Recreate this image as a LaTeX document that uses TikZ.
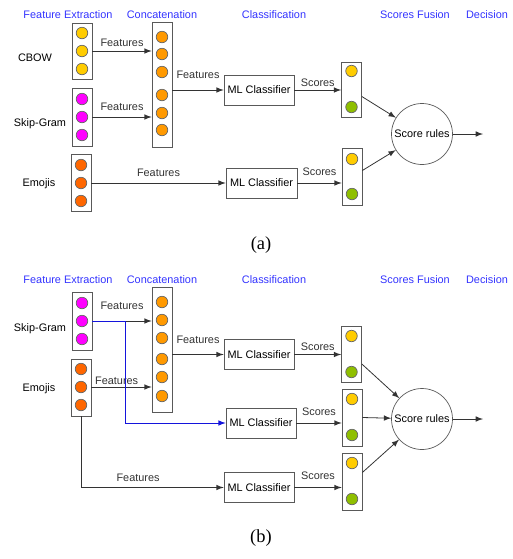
\documentclass[tikz,border=0pt]{standalone}
\usepackage{fontspec}
\setmainfont{Liberation Sans}
\newfontfamily\capfont{Liberation Serif}
\definecolor{hdrblue}{RGB}{51,51,255}
\definecolor{cyel}{RGB}{255,204,0}
\definecolor{cmag}{RGB}{255,0,255}
\definecolor{cemo}{RGB}{255,102,0}
\definecolor{ccat}{RGB}{255,153,0}
\definecolor{cgrn}{RGB}{143,191,0}
\definecolor{cblue}{RGB}{20,20,220}
\tikzset{
  hdr/.style={text=hdrblue},
  colbox/.style={draw=black!65,minimum width=0.4cm,inner sep=0pt},
  dot/.style={circle,draw=black!60,minimum size=0.23cm,inner sep=0pt},
  clf/.style={draw=black!65,minimum width=1.4cm,minimum height=0.6cm,inner sep=0pt},
  fuse/.style={circle,draw=black!65,minimum size=1.22cm,inner sep=0pt},
  conn/.style={->,black!80,line width=0.45pt},
  lbl/.style={inner sep=0.5pt,above=#1},
  lbl/.default=2pt,
  capt/.style={font=\capfont\fontsize{10.5}{12}\selectfont}
}
\begin{document}
\begin{tikzpicture}[x=0.02cm,y=-0.02cm,>=latex,font=\fontsize{6.2}{7.4}\selectfont]
    \useasboundingbox (0,0) rectangle (513,559);
    % (a)
    \node[hdr] (hfea) at (68,15) {Feature Extraction};
    \node[hdr] (hcca) at (162,15) {Concatenation};
    \node[hdr] (hcla) at (274,15) {Classification};
    \node[hdr] (hsfa) at (415,15) {Scores Fusion};
    \node[hdr] (hdea) at (487,15) {Decision};
    \node (tcbow) at (35,58) {CBOW};
    \node (tskipa) at (40,124) {Skip-Gram};
    \node (temoa) at (39,184) {Emojis};
    \node[colbox,minimum height=1.12cm] (cbow) at (82,51) {};
    \foreach \i/\y in {1/33,2/51,3/69} { \node[dot,fill=cyel] (cbow\i) at (82,\y) {}; }
    \node[colbox,minimum height=1.16cm] (skipa) at (82,117) {};
    \foreach \i/\y in {1/99,2/117,3/135} { \node[dot,fill=cmag] (skipa\i) at (82,\y) {}; }
    \node[colbox,minimum height=1.14cm] (emoa) at (81,183) {};
    \foreach \i/\y in {1/165,2/183,3/201} { \node[dot,fill=cemo] (emoa\i) at (81,\y) {}; }
    \node[colbox,minimum height=2.5cm] (cata) at (162,84.5) {};
    \foreach \i/\y in {1/37,2/54,3/72,4/95,5/113,6/130} { \node[dot,fill=ccat] (cata\i) at (162,\y) {}; }
    \node[clf] (clfa1) at (259,90) {ML Classifier};
    \node[clf,minimum width=1.42cm] (clfa2) at (261.5,183) {ML Classifier};
    \node[colbox,minimum height=1.1cm] (sca1) at (351.5,89.5) {};
    \node[dot,fill=cyel] (sca1y) at (351.5,71) {};
    \node[dot,fill=cgrn] (sca1g) at (351.5,107) {};
    \node[colbox,minimum height=1.14cm] (sca2) at (352,176.5) {};
    \node[dot,fill=cyel] (sca2y) at (352,159) {};
    \node[dot,fill=cgrn] (sca2g) at (352,194) {};
    \node[fuse] (fusa) at (422,134) {Score rules};
    \coordinate (deca) at (483,134);
    \draw[conn] (cbow2 -| cbow.east) -- node[lbl=2pt] (fa1) {Features} (cbow2 -| cata.west);
    \draw[conn] (skipa2 -| skipa.east) -- node[lbl=3pt] (fa2) {Features} (skipa2 -| cata.west);
    \draw[conn] (cata.east |- clfa1) -- node[lbl=5.8pt] (fa3) {Features} (clfa1.west);
    \draw[conn] (emoa2 -| emoa.east) -- node[lbl=3pt] (fa4) {Features} (emoa2 -| clfa2.west);
    \draw[conn] (clfa1.east) -- node[lbl=1.3pt] (sa1) {Scores} (clfa1.east -| sca1.west);
    \draw[conn] (clfa2.east) -- node[lbl=3.5pt] (sa2) {Scores} (clfa2.east -| sca2.west);
    \draw[conn] ([yshift=-0.14cm]sca1.east) -- (fusa);
    \draw[conn] ([yshift=0.12cm]sca2.east) -- (fusa);
    \draw[conn] (fusa) -- (deca);
    \node[capt] (capa) at (261,245) {(a)};
    % (b)
    \node[hdr] (hfeb) at (68,280) {Feature Extraction};
    \node[hdr] (hccb) at (162,280) {Concatenation};
    \node[hdr] (hclb) at (274,280) {Classification};
    \node[hdr] (hsfb) at (415,280) {Scores Fusion};
    \node[hdr] (hdeb) at (487,280) {Decision};
    \node (tskipb) at (40,329) {Skip-Gram};
    \node (temob) at (39,389) {Emojis};
    \node[colbox,minimum height=1.16cm] (skipb) at (82,321) {};
    \foreach \i/\y in {1/303,2/321,3/339} { \node[dot,fill=cmag] (skipb\i) at (82,\y) {}; }
    \node[colbox,minimum height=1.14cm] (emob) at (81,387.5) {};
    \foreach \i/\y in {1/369,2/387,3/405} { \node[dot,fill=cemo] (emob\i) at (81,\y) {}; }
    \node[colbox,minimum height=2.5cm] (catb) at (162,349.5) {};
    \foreach \i/\y in {1/302,2/320,3/338,4/359,5/377,6/396} { \node[dot,fill=ccat] (catb\i) at (162,\y) {}; }
    \node[clf] (clfb1) at (259,354.5) {ML Classifier};
    \node[clf] (clfb2) at (261,423) {ML Classifier};
    \node[clf] (clfb3) at (259,487.5) {ML Classifier};
    \node[colbox,minimum height=1.12cm] (scb1) at (351.5,354) {};
    \node[dot,fill=cyel] (scb1y) at (351.5,336) {};
    \node[dot,fill=cgrn] (scb1g) at (351.5,372) {};
    \node[colbox,minimum height=1.14cm] (scb2) at (352,417.5) {};
    \node[dot,fill=cyel] (scb2y) at (352,399) {};
    \node[dot,fill=cgrn] (scb2g) at (352,435) {};
    \node[colbox,minimum height=1.14cm] (scb3) at (352,481.5) {};
    \node[dot,fill=cyel] (scb3y) at (352,463) {};
    \node[dot,fill=cgrn] (scb3g) at (352,499) {};
    \node[fuse] (fusb) at (422,419) {Score rules};
    \coordinate (decb) at (483,419);
    \coordinate (bend) at (125,321);
    \draw[conn] (skipb2 -| skipb.east) -- node[lbl=5.8pt] (fb1) {Features} (skipb2 -| catb.west);
    \draw[conn] (emob2 -| emob.east) -- node[lbl=0.8pt,pos=0.42] (fb2) {Features} (emob2 -| catb.west);
    \draw[->,cblue,line width=0.45pt] (skipb2 -| skipb.east) -- (bend) |- (clfb2.west);
    \draw[conn] (emob.south) |- node[lbl=2.8pt,pos=0.7] (fb3) {Features} (clfb3.west);
    \draw[conn] (catb.east |- clfb1) -- node[lbl=5.3pt] (fb4) {Features} (clfb1.west);
    \draw[conn] (clfb1.east) -- node[lbl=1.3pt] (sb1) {Scores} (clfb1.east -| scb1.west);
    \draw[conn] (clfb2.east) -- node[lbl=3.5pt] (sb2) {Scores} (clfb2.east -| scb2.west);
    \draw[conn] (clfb3.east) -- node[lbl=3.5pt] (sb3) {Scores} (clfb3.east -| scb3.west);
    \draw[conn] ([yshift=-0.2cm]scb1.east) -- (fusb);
    \draw[conn] (scb2.east) -- (fusb);
    \draw[conn] ([yshift=0.18cm]scb3.east) -- (fusb);
    \draw[conn] (fusb) -- (decb);
    \node[capt] (capb) at (261,538) {(b)};
\end{tikzpicture}
\end{document}
